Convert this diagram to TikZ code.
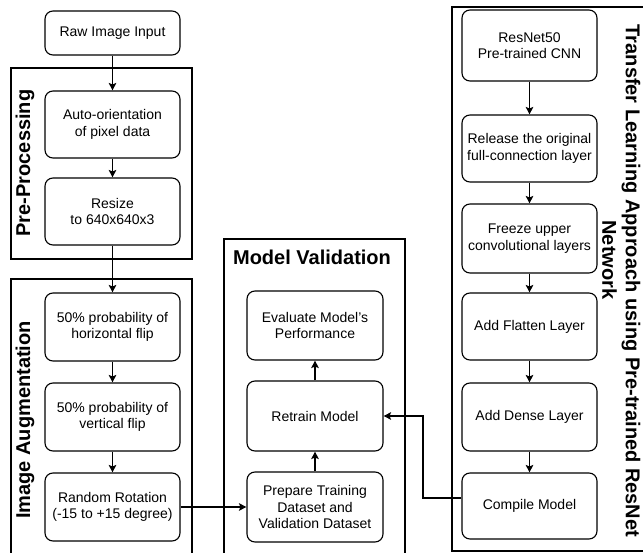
\documentclass[tikz,border=0pt]{standalone}
\usepackage{fontspec}
\setmainfont{Liberation Sans}
\usetikzlibrary{arrows.meta,calc}
\begin{document}
\begin{tikzpicture}[x=1pt,y=-1pt,
 box/.style={draw,rounded corners=8pt,line width=1.1pt,align=center,fill=white,
   font=\fontsize{14}{16.5}\selectfont,inner sep=0pt,minimum width=135pt},
 frame/.style={draw,line width=1.1pt},
 ttl/.style={font=\fontsize{20}{22}\selectfont\bfseries,inner sep=0pt},
 arr/.style={-{Stealth[length=7.5pt,width=7.5pt,inset=1.5pt]},line width=1.1pt}]
\useasboundingbox (0,0) rectangle (643,553);
\clip (0,0) rectangle (643,553);
% frames
\draw[frame] (11,68) rectangle (192,259);
\draw[frame] (11,279) rectangle (192,570);
\draw[frame] (224,239) rectangle (405,570);
\draw[frame] (452,7) rectangle (660,551);
% titles
\node[ttl,rotate=90] (tpre) at (25,163) {Pre-Processing};
\node[ttl,rotate=90] (taug) at (25,420) {Image Augmentation};
\node[ttl] (tmv) at (312,257.5) {Model Validation};
\node[ttl,rotate=-90] (ttl1) at (631,281) {Transfer Learning Approach using Pre-trained ResNet};
\node[ttl,rotate=-90] (ttl2) at (609.5,260) {Network};
% left column
\node[box,minimum height=44pt] (raw) at (112.5,33) {Raw Image Input};
\node[box,minimum height=67pt] (auto) at (112.5,124.5) {Auto-orientation\\of pixel data};
\node[box,minimum height=67pt] (resize) at (112.5,211.5) {Resize\\to 640x640x3};
\node[box,minimum height=68pt] (hflip) at (112.5,327) {50\% probability of\\horizontal flip};
\node[box,minimum height=68pt] (vflip) at (112.5,417) {50\% probability of\\vertical flip};
\node[box,minimum height=68pt] (rot) at (112.5,507) {Random Rotation\\(-15 to +15 degree)};
% middle column
\node[box,minimum width=136pt,minimum height=69pt] (eval) at (315,325.5) {Evaluate Model\char39 s\\Performance};
\node[box,minimum width=136pt,minimum height=70pt] (retrain) at (315,416) {Retrain Model};
\node[box,minimum width=136pt,minimum height=70pt] (prep) at (315,507) {Prepare Training\\Dataset and\\Validation Dataset};
% right column
\node[box,minimum height=71pt] (resnet) at (529.5,45.5) {ResNet50\\Pre-trained CNN};
\node[box,minimum height=67pt] (release) at (529.5,148.5) {Release the original\\full-connection layer};
\node[box,minimum height=69pt] (freeze) at (529.5,238.5) {Freeze upper\\convolutional layers};
\node[box,minimum height=67pt] (flatten) at (529.5,326.5) {Add Flatten Layer};
\node[box,minimum height=68pt] (dense) at (529.5,417) {Add Dense Layer};
\node[box,minimum height=66pt] (compile) at (529.5,506) {Compile Model};
% connectors
\draw[arr] (raw) -- (auto);
\draw[arr] (auto) -- (resize);
\draw[arr] (resize) -- (hflip);
\draw[arr] (hflip) -- (vflip);
\draw[arr] (vflip) -- (rot);
\draw[arr] (rot) -- (prep);
\draw[arr] (prep) -- (retrain);
\draw[arr] (retrain) -- (eval);
\draw[arr] (resnet) -- (release);
\draw[arr] (release) -- (freeze);
\draw[arr] (freeze) -- (flatten);
\draw[arr] (flatten) -- (dense);
\draw[arr] (dense) -- (compile);
\coordinate (c1) at (423,498);
\draw[arr] (compile.west |- c1) -- (c1) |- (retrain.east);
\end{tikzpicture}
\end{document}
